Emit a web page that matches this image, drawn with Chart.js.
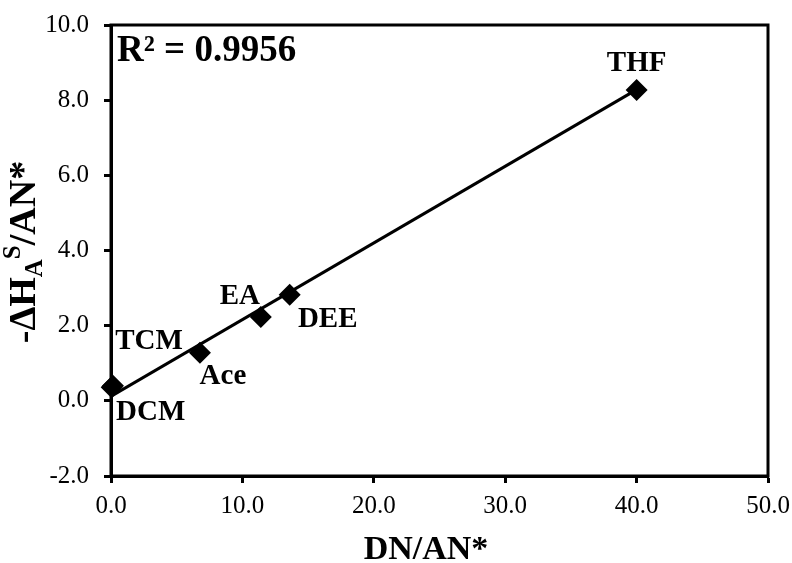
<!DOCTYPE html>
<html>
<head>
<meta charset="utf-8">
<script src="https://cdn.jsdelivr.net/npm/chart.js@4.4.1/dist/chart.umd.min.js"></script>
<style>
  html, body { margin: 0; padding: 0; background: #fff; }
  #wrap { width: 792px; height: 563px; }
</style>
</head>
<body>
<div id="wrap"><canvas id="chart" width="792" height="563"></canvas></div>
<script>
/* data */
const solvents = ["DCM", "TCM", "Ace", "EA", "DEE", "THF"];
const dnAn = [0.05, 0.15, 6.77, 11.4, 13.6, 40.0];
const dhAn = [0.36, 0.40, 1.28, 2.23, 2.82, 8.27];

// trendline end points as drawn
const trendX = [0.05, 40.0];
const trendY = [0.13, 8.28];

const xTicks = [0, 10, 20, 30, 40, 50];
const yTicks = [-2, 0, 2, 4, 6, 8, 10];
const r2Text = "R\u00b2 = 0.9956";

// label offsets from their point, in px
const labelOffsets = {
  DCM: [39, 25], TCM: [36, -44], Ace: [23, 24],
  EA: [-21, -21], DEE: [38, 25], THF: [0, -27]
};

const SERIF = '"Liberation Serif", "Times New Roman", serif';

const points = dnAn.map((x, i) => ({ x: x, y: dhAn[i] }));
const trend = trendX.map((x, i) => ({ x: x, y: trendY[i] }));

/* frame, labels and axis titles */
const extrasPlugin = {
  id: 'extras',
  afterDatasetsDraw(chart) {
    const c = chart.ctx;
    const a = chart.chartArea;
    const xs = chart.scales.x, ys = chart.scales.y;
    c.save();
    // box round the plot
    c.strokeStyle = '#000';
    c.lineWidth = 3;
    c.strokeRect(a.left, a.top, a.right - a.left, a.bottom - a.top);

    // point labels
    c.fillStyle = '#000';
    c.font = 'bold 29px ' + SERIF;
    c.textAlign = 'center';
    c.textBaseline = 'middle';
    solvents.forEach((name, i) => {
      const off = labelOffsets[name];
      c.fillText(name, xs.getPixelForValue(dnAn[i]) + off[0], ys.getPixelForValue(dhAn[i]) + off[1]);
    });

    // R squared
    c.font = 'bold 37px ' + SERIF;
    c.textAlign = 'left';
    c.fillText(r2Text, a.left + 6, a.top + 26);

    // x title
    c.font = 'bold 34px ' + SERIF;
    c.textAlign = 'center';
    c.textBaseline = 'alphabetic';
    c.fillText('DN/AN*', 426, 559);

    // y title with sub / superscript
    const parts = [
      { t: '-\u0394H', size: 38, dy: 0 },
      { t: 'A', size: 25, dy: 7 },
      { t: 'S', size: 25, dy: -15 },
      { t: '/AN*', size: 38, dy: 0 }
    ];
    let total = 0;
    parts.forEach(p => { c.font = 'bold ' + p.size + 'px ' + SERIF; p.w = c.measureText(p.t).width; total += p.w; });
    c.translate(35, 252);
    c.rotate(-Math.PI / 2);
    c.textAlign = 'left';
    let px = -total / 2;
    parts.forEach(p => {
      c.font = 'bold ' + p.size + 'px ' + SERIF;
      c.fillText(p.t, px, p.dy);
      px += p.w;
    });
    c.restore();
  }
};

const ctx = document.getElementById('chart').getContext('2d');
const chart = new Chart(ctx, {
  type: 'scatter',
  data: {
    datasets: [
      {
        label: 'trend',
        type: 'line',
        data: trend,
        borderColor: '#000',
        borderWidth: 3,
        pointRadius: 0,
        fill: false,
        order: 2
      },
      {
        label: 'solvents',
        data: points,
        pointStyle: 'rectRot',
        pointRadius: 11,
        backgroundColor: '#000',
        borderColor: '#000',
        borderWidth: 0,
        clip: false,
        order: 1
      }
    ]
  },
  options: {
    responsive: false,
    animation: false,
    layout: { padding: { left: 0, right: 24, top: 25, bottom: 0 } },
    plugins: {
      legend: { display: false },
      tooltip: { enabled: false }
    },
    scales: {
      x: {
        type: 'linear',
        min: 0, max: 50,
        afterFit(s) { s.height = 87; s.paddingLeft = 0; s.paddingRight = 0; },
        afterBuildTicks(s) { s.ticks = xTicks.map(v => ({ value: v })); },
        border: { display: true, color: '#000', width: 3 },
        grid: { drawOnChartArea: false, drawTicks: true, tickLength: 7, tickWidth: 3, tickColor: '#000' },
        ticks: {
          color: '#000',
          padding: 8,
          font: { family: SERIF, size: 25 },
          callback: v => v.toFixed(1)
        }
      },
      y: {
        type: 'linear',
        min: -2, max: 10,
        afterFit(s) { s.width = 111; s.paddingTop = 0; s.paddingBottom = 0; },
        afterBuildTicks(s) { s.ticks = yTicks.map(v => ({ value: v })); },
        border: { display: true, color: '#000', width: 3 },
        grid: { drawOnChartArea: false, drawTicks: true, tickLength: 7, tickWidth: 3, tickColor: '#000' },
        ticks: {
          color: '#000',
          padding: 15,
          font: { family: SERIF, size: 25 },
          callback: v => v.toFixed(1)
        }
      }
    }
  },
  plugins: [extrasPlugin]
});
</script>
</body>
</html>
